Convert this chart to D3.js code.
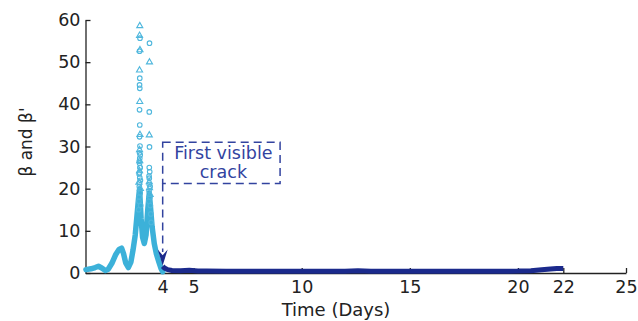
<!DOCTYPE html>
<html>
<head>
<meta charset="utf-8">
<script src="https://cdn.jsdelivr.net/npm/d3@7"></script>
<style>
  body { margin: 0; background: #fff; }
  svg { display: block; }
  text { font-family: "DejaVu Sans", sans-serif; }
</style>
</head>
<body>
<div class="chart-wrapper"></div>
<script>
// series before the crack (light blue), day / value
const betaDays = [0.02, 0.25, 0.45, 0.6, 0.75, 0.92, 1.05, 1.22, 1.4, 1.55, 1.67, 1.76, 1.86, 1.98, 2.1, 2.2, 2.3, 2.38, 2.45, 2.5,
    2.57, 2.64, 2.72, 2.8, 2.88, 2.95, 3.0, 3.08, 3.18, 3.28, 3.4, 3.5, 3.57];
const betaValues = [0.8, 1.0, 1.3, 1.6, 1.2, 0.6, 0.9, 2.3, 4.4, 5.6, 5.9, 4.6, 2.4, 1.3, 2.6, 5.5, 9.0, 13.5, 17.5, 20.0,
    13.0, 8.5, 7.0, 9.0, 15.0, 19.0, 16.0, 11.0, 7.0, 4.5, 2.5, 1.0, 0.3];

// markers at the two spikes
const circleDays = [2.52, 2.50, 2.51, 2.50, 2.51, 2.50, 2.51, 2.50, 2.52, 2.50, 2.51, 2.50, 2.52, 2.50, 2.51, 2.50,
    2.48, 2.53, 2.49, 2.54, 2.48, 2.53, 2.49, 2.53, 2.47, 2.55, 2.46,
    2.96, 2.95, 2.96, 2.95, 2.94, 2.95,
    2.93, 2.98, 2.94, 2.99, 2.95, 2.97, 3.0, 3.02, 3.04];
const circleValues = [55.7, 52.6, 46.2, 44.6, 43.8, 38.7, 35.1, 32.3, 30.1, 28.5, 27.2, 26.0, 25.0, 23.8, 22.6, 21.4,
    18.0, 19.0, 20.5, 22.0, 23.5, 25.0, 26.5, 28.0, 17.0, 16.0, 15.0,
    54.5, 38.2, 29.9, 25.0, 23.0, 21.0,
    17.0, 18.0, 19.5, 20.5, 22.5, 24.0, 16.0, 14.0, 12.0];
const triangleDays = [2.51, 2.50, 2.52, 2.50, 2.51, 2.52, 2.50, 2.51, 2.50, 2.54, 2.47, 2.96, 2.95, 2.95, 2.96, 2.99];
const triangleValues = [58.6, 56.3, 52.9, 48.1, 40.6, 32.8, 29.2, 26.6, 24.2, 20.0, 21.5, 50.0, 32.7, 21.6, 20.2, 18.6];

// series after the crack (dark blue)
const betaPrimeDays = [3.57, 3.65, 3.8, 4.0, 4.4, 4.8, 5.2, 5.6, 6.5, 8, 10, 12, 12.6, 13.2, 15, 17, 19, 20, 20.6, 21.1, 21.5, 21.8, 22.1];
const betaPrimeValues = [1.6, 1.2, 0.8, 0.6, 0.55, 0.65, 0.5, 0.45, 0.42, 0.4, 0.4, 0.4, 0.55, 0.4, 0.4, 0.4, 0.4, 0.45, 0.55, 0.75, 0.95, 1.05, 1.05];

const xTickValues = [3.57, 5, 10, 15, 20, 22.1, 25];
const xTickLabels = ['4', '5', '10', '15', '20', '22', '25'];
const yTickValues = [0, 10, 20, 30, 40, 50, 60];

const crackDay = 3.57;
const noteLines = ['First visible', 'crack'];

const width = 638, height = 321;
const light = '#3cb1d9', dark = '#1b2a8c', note = '#32439f';

const x = d3.scaleLinear().domain([0, 25]).range([85.5, 626]);
const y = d3.scaleLinear().domain([0, 60]).range([273, 20]);

const svg = d3.select('.chart-wrapper')
    .append('svg')
    .attr('width', width)
    .attr('height', height);

// axes
const xAxis = svg.append('g')
    .attr('transform', `translate(0,${y(0)})`)
    .call(d3.axisBottom(x)
        .tickValues(xTickValues)
        .tickFormat((d, i) => xTickLabels[i])
        .tickSizeInner(-5)
        .tickSizeOuter(0)
        .tickPadding(8));

const yAxis = svg.append('g')
    .attr('transform', `translate(${x(0)},0)`)
    .call(d3.axisLeft(y)
        .tickValues(yTickValues)
        .tickSizeInner(-5)
        .tickSizeOuter(0)
        .tickPadding(5));

[xAxis, yAxis].forEach(a => {
    a.select('.domain').attr('stroke', '#222').attr('stroke-width', 1.3);
    a.selectAll('.tick line').attr('stroke', '#222').attr('stroke-width', 1.3);
    a.selectAll('.tick text').attr('font-size', 17.5).attr('fill', '#222')
        .attr('font-family', '"DejaVu Sans", sans-serif');
});

svg.append('text')
    .attr('x', 336).attr('y', 316)
    .attr('text-anchor', 'middle')
    .attr('font-size', 18).attr('fill', '#222')
    .text('Time (Days)');

svg.append('text')
    .attr('transform', 'translate(32,142) rotate(-90)')
    .attr('text-anchor', 'middle')
    .attr('font-size', 17).attr('fill', '#222')
    .text('β and β\'');

// light blue series
const line = d3.line()
    .x(d => x(d[0]))
    .y(d => y(d[1]));

svg.append('path')
    .datum(d3.zip(betaDays, betaValues))
    .attr('fill', 'none')
    .attr('stroke', light)
    .attr('stroke-width', 5.5)
    .attr('stroke-linejoin', 'round')
    .attr('stroke-linecap', 'round')
    .attr('d', line);

svg.append('g').selectAll('circle')
    .data(d3.zip(circleDays, circleValues))
    .join('circle')
    .attr('cx', d => x(d[0]))
    .attr('cy', d => y(d[1]))
    .attr('r', 2.3)
    .attr('fill', 'none')
    .attr('stroke', '#4fb7dd')
    .attr('stroke-width', 1.1);

svg.append('g').selectAll('path')
    .data(d3.zip(triangleDays, triangleValues))
    .join('path')
    .attr('transform', d => `translate(${x(d[0])},${y(d[1])})`)
    .attr('d', d3.symbol(d3.symbolTriangle, 16))
    .attr('fill', 'none')
    .attr('stroke', '#4fb7dd')
    .attr('stroke-width', 1.1);

// dark blue series
svg.append('path')
    .datum(d3.zip(betaPrimeDays, betaPrimeValues))
    .attr('fill', 'none')
    .attr('stroke', dark)
    .attr('stroke-width', 5)
    .attr('stroke-linejoin', 'round')
    .attr('d', line);

// annotation
const boxLeft = x(crackDay), boxRight = x(9.0);
const boxTop = y(31.0), boxBottom = y(21.2);

svg.append('rect')
    .attr('x', boxLeft).attr('y', boxTop)
    .attr('width', boxRight - boxLeft)
    .attr('height', boxBottom - boxTop)
    .attr('fill', 'none')
    .attr('stroke', note)
    .attr('stroke-width', 1.5)
    .attr('stroke-dasharray', '8,5');

svg.append('line')
    .attr('x1', boxLeft).attr('x2', boxLeft)
    .attr('y1', boxBottom).attr('y2', y(5))
    .attr('stroke', note)
    .attr('stroke-width', 1.5)
    .attr('stroke-dasharray', '8,5');

// arrow head
const tipY = y(1.8);
svg.append('path')
    .attr('d', `M${boxLeft - 5},${y(5.6)} L${boxLeft},${y(4.2)} L${boxLeft + 5},${y(5.6)} L${boxLeft},${tipY} Z`)
    .attr('fill', dark);

svg.append('g').selectAll('text')
    .data(noteLines)
    .join('text')
    .attr('x', (boxLeft + boxRight) / 2 + 2)
    .attr('y', (d, i) => 159 + i * 19)
    .attr('text-anchor', 'middle')
    .attr('font-size', 17.5)
    .attr('fill', note)
    .text(d => d);
</script>
</body>
</html>
